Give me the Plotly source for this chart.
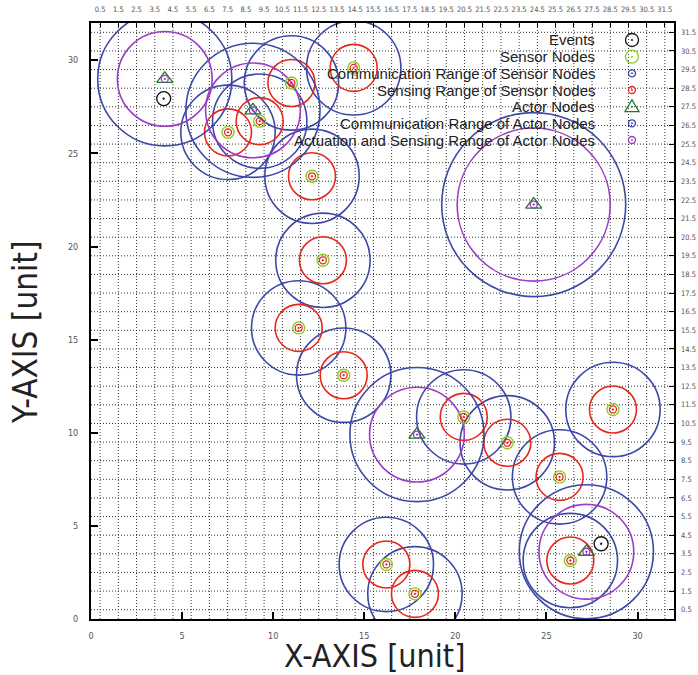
import plotly.graph_objects as go

# ---------------- data ----------------
X_MAX = 32
Y_MAX = 32

sensor_x = [7.52, 9.26, 11.00, 14.42, 12.13, 12.73, 11.40, 13.87, 20.46, 22.85, 25.72, 28.65, 16.21, 17.78, 26.31]
sensor_y = [26.13, 26.73, 28.78, 29.59, 23.77, 19.26, 15.63, 13.09, 10.85, 9.46, 7.63, 11.25, 2.93, 1.35, 3.14]
sensor_sense_r = 1.29
sensor_comm_r = 2.59

actor_x = [4.05, 8.89, 17.89, 24.30, 27.19]
actor_y = [29.00, 27.31, 9.90, 22.25, 3.61]
actor_act_r = [2.60, 2.60, 2.60, 4.20, 2.60]
actor_comm_r = [3.68, 3.68, 3.68, 5.05, 3.68]

event_x = [3.99, 28.00]
event_y = [27.94, 4.04]

x_ticks = [0, 5, 10, 15, 20, 25, 30]
y_ticks = [0, 5, 10, 15, 20, 25, 30]
x2_ticks = [k + 0.5 for k in range(32)]
y2_ticks = [k + 0.5 for k in range(32)]
x2_labels = [f"{v:g}" for v in x2_ticks]
y2_labels = [f"{v:g}" for v in y2_ticks]

legend_labels = [
    "Events",
    "Sensor Nodes",
    "Communication Range of Sensor Nodes",
    "Sensing Range of Sensor Nodes",
    "Actor Nodes",
    "Communication Range of Actor Nodes",
    "Actuation and Sensing Range of Actor Nodes",
]

# ---------------- style ----------------
W, H = 698, 675
ML, MR, MT, MB = 91, 24, 23, 56
PW, PH = W - ML - MR, H - MT - MB
KY = (PW / X_MAX) / (PH / Y_MAX)  # keep circles round on screen

BLUE = "#3c48a8"
RED = "#e8281c"
PURPLE = "#9b3cc4"
LGREEN = "#8acc22"
DGREEN = "#237a2a"
BLACK = "#111111"
NARROW = "Liberation Sans Narrow, DejaVu Sans Condensed, sans-serif"
SANS = "Liberation Sans, Arial, Helvetica, sans-serif"


def px_x(p):
    return (p - ML) / PW


def px_y(p):
    return (H - MB - p) / PH


shapes = []
annotations = []

# dotted grid at the secondary (x.5) ticks
for v in x2_ticks:
    shapes.append(dict(type="line", xref="x", yref="y", x0=v, x1=v, y0=0, y1=Y_MAX,
                       line=dict(color="#333", width=1, dash="1px,2px"), layer="below"))
for v in y2_ticks:
    shapes.append(dict(type="line", xref="x", yref="y", x0=0, x1=X_MAX, y0=v, y1=v,
                       line=dict(color="#333", width=1, dash="1px,2px"), layer="below"))

# white key background (hides grid)
shapes.append(dict(type="rect", xref="paper", yref="paper",
                   x0=px_x(293), x1=1, y0=px_y(150), y1=1,
                   fillcolor="white", line=dict(width=0), layer="below"))


def circle(cx, cy, r, color, width=1.6):
    return dict(type="circle", xref="x", yref="y",
                x0=cx - r, x1=cx + r, y0=cy - r * KY, y1=cy + r * KY,
                line=dict(color=color, width=width), layer="below")


for cx, cy in zip(sensor_x, sensor_y):
    shapes.append(circle(cx, cy, sensor_comm_r, BLUE))
for cx, cy in zip(sensor_x, sensor_y):
    shapes.append(circle(cx, cy, sensor_sense_r, RED))
for cx, cy, r in zip(actor_x, actor_y, actor_comm_r):
    shapes.append(circle(cx, cy, r, BLUE))
for cx, cy, r in zip(actor_x, actor_y, actor_act_r):
    shapes.append(circle(cx, cy, r, PURPLE))

fig = go.Figure()

fig.add_trace(go.Scatter(x=sensor_x, y=sensor_y, mode="markers", showlegend=False, hoverinfo="skip",
                         marker=dict(symbol="circle-open", size=12, color=LGREEN, line=dict(width=1.4, color=LGREEN))))
fig.add_trace(go.Scatter(x=sensor_x, y=sensor_y, mode="markers", showlegend=False, hoverinfo="skip",
                         marker=dict(symbol="circle-open-dot", size=7, color=RED, line=dict(width=1.3, color=RED))))
fig.add_trace(go.Scatter(x=actor_x, y=actor_y, mode="markers", showlegend=False, hoverinfo="skip",
                         marker=dict(symbol="triangle-up-open", size=14, color=DGREEN, line=dict(width=1.3, color=DGREEN))))
fig.add_trace(go.Scatter(x=actor_x, y=actor_y, mode="markers", showlegend=False, hoverinfo="skip",
                         marker=dict(symbol="circle-open-dot", size=7, color=PURPLE, line=dict(width=1.3, color=PURPLE))))
fig.add_trace(go.Scatter(x=event_x, y=event_y, mode="markers", showlegend=False, hoverinfo="skip",
                         marker=dict(symbol="circle-open-dot", size=14, color=BLACK, line=dict(width=1.3, color=BLACK))))
# empty trace to activate the top/right label axes
fig.add_trace(go.Scatter(x=[], y=[], xaxis="x2", yaxis="y2", showlegend=False, hoverinfo="skip"))

# ---------------- manual key ----------------
key_text_x = px_x(597)
key_sym_x = px_x(632)
key_y = [40, 56.7, 73.3, 90, 106.7, 123.3, 140]
key_syms = [("ring", BLACK, 6.5), ("ring", LGREEN, 6.5), ("ring", BLUE, 3.5), ("ring", RED, 3.5),
            ("tri", DGREEN, 0), ("ring", BLUE, 3.5), ("ring", PURPLE, 3.5)]
for lab, yy, (kind, col, rr) in zip(legend_labels, key_y, key_syms):
    annotations.append(dict(x=key_text_x, y=px_y(yy), xref="paper", yref="paper", text=lab,
                            showarrow=False, xanchor="right", yanchor="middle",
                            font=dict(family=SANS, size=15, color="#222")))
    if kind == "ring":
        shapes.append(dict(type="circle", xref="paper", yref="paper", xsizemode="pixel", ysizemode="pixel",
                           xanchor=key_sym_x, yanchor=px_y(yy), x0=-rr, x1=rr, y0=-rr, y1=rr,
                           line=dict(color=col, width=1.3), layer="above"))
    else:
        shapes.append(dict(type="path", xref="paper", yref="paper", xsizemode="pixel", ysizemode="pixel",
                           xanchor=key_sym_x, yanchor=px_y(yy), path="M -7,-5 L 7,-5 L 0,7 Z",
                           line=dict(color=col, width=1.3), layer="above"))
    shapes.append(dict(type="circle", xref="paper", yref="paper", xsizemode="pixel", ysizemode="pixel",
                       xanchor=key_sym_x, yanchor=px_y(yy), x0=-0.8, x1=0.8, y0=-0.8, y1=0.8,
                       fillcolor=col, line=dict(color=col, width=0.5), layer="above"))

# axis titles
annotations.append(dict(x=px_x(374), y=px_y(656), xref="paper", yref="paper", text="X-AXIS [unit]",
                        showarrow=False, xanchor="center", yanchor="middle",
                        font=dict(family=NARROW, size=32, color="#222")))
annotations.append(dict(x=px_x(25), y=px_y(332), xref="paper", yref="paper", text="Y-AXIS [unit]",
                        showarrow=False, xanchor="center", yanchor="middle", textangle=-90,
                        font=dict(family=NARROW, size=33, color="#222")))

fig.update_layout(
    width=W, height=H,
    margin=dict(l=ML, r=MR, t=MT, b=MB, pad=0, autoexpand=False),
    paper_bgcolor="white", plot_bgcolor="white",
    showlegend=False,
    shapes=shapes, annotations=annotations,
    xaxis=dict(range=[0, X_MAX], tickvals=x_ticks, ticks="inside", ticklen=7, tickwidth=1.5, tickcolor="black",
               showline=True, linewidth=2, linecolor="black", mirror=True, showgrid=False, zeroline=False,
               automargin=False,
               tickfont=dict(family=NARROW, size=9, color="#555"), ticklabelstandoff=7),
    yaxis=dict(range=[0, Y_MAX], tickvals=y_ticks, ticks="inside", ticklen=7, tickwidth=1.5, tickcolor="black",
               showline=True, linewidth=2, linecolor="black", mirror=True, showgrid=False, zeroline=False,
               automargin=False,
               tickfont=dict(family=NARROW, size=9, color="#555"), ticklabelstandoff=9),
    xaxis2=dict(range=[0, X_MAX], overlaying="x", side="top", anchor="y", tickvals=x2_ticks, ticktext=x2_labels,
                ticks="inside", ticklen=4, tickwidth=1, tickcolor="black", showgrid=False, zeroline=False,
                showline=False, automargin=False,
                tickfont=dict(family=NARROW, size=7.5, color="#555"), ticklabelstandoff=9),
    yaxis2=dict(range=[0, Y_MAX], overlaying="y", side="right", anchor="x", tickvals=y2_ticks, ticktext=y2_labels,
                ticks="inside", ticklen=5, tickwidth=1, tickcolor="black", showgrid=False, zeroline=False,
                showline=False, automargin=False,
                tickfont=dict(family=NARROW, size=7.5, color="#555"), ticklabelstandoff=6),
)

fig.write_html("out.html", config={"displayModeBar": False},
               post_script="document.body.style.margin='0';")
